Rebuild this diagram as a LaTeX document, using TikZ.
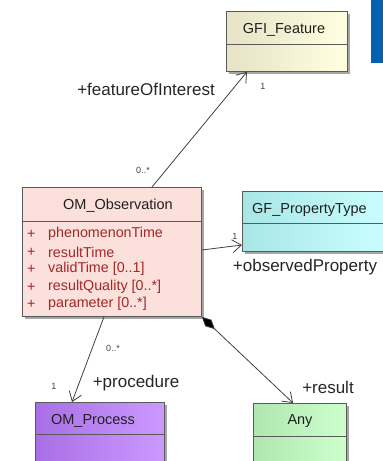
\documentclass[tikz,border=0pt]{standalone}
\usepackage{fontspec}
\setmainfont{Liberation Sans}
\usetikzlibrary{arrows.meta,calc,shadows}
\definecolor{boxline}{HTML}{5A5A5A}
\definecolor{titlecol}{HTML}{202020}
\definecolor{attrcol}{HTML}{A02828}
\definecolor{gfiL}{HTML}{E6E3C6}
\definecolor{gfiR}{HTML}{FFFFE0}
\definecolor{obsC}{HTML}{FCE0DC}
\definecolor{gptL}{HTML}{A8E6E6}
\definecolor{gptR}{HTML}{CCFFFF}
\definecolor{procL}{HTML}{A96EE6}
\definecolor{procR}{HTML}{CC99FF}
\definecolor{anyL}{HTML}{B0E6B0}
\definecolor{anyR}{HTML}{CCFFCC}
\definecolor{slideblue}{HTML}{0062B0}
\begin{document}
\begin{tikzpicture}[x=1pt,y=-1pt,
  box/.style={draw=boxline, line width=0.8pt, rectangle, anchor=north west, inner sep=0pt,
    drop shadow={shadow xshift=2.5pt, shadow yshift=-2.5pt, fill=black, opacity=0.35}},
  divider/.style={draw=boxline, line width=0.8pt},
  title/.style={font=\fontsize{14.5}{16}\selectfont, text=titlecol, inner sep=0pt},
  attr/.style={font=\fontsize{14.3}{16}\selectfont, text=attrcol, anchor=west, inner sep=0pt},
  role/.style={font=\fontsize{17}{19}\selectfont, text=black!85, inner sep=0pt},
  mult/.style={font=\fontsize{9}{10}\selectfont, text=black!75, inner sep=0pt},
  assoc/.style={draw=black!75, line width=0.8pt, -{Straight Barb[length=9pt,width=13pt,line width=0.8pt]}},
  compo/.style={draw=black!75, line width=0.8pt, {Diamond[length=18pt,width=9pt,fill=black]}-{Straight Barb[length=9pt,width=13pt,line width=0.8pt]}},
]
\useasboundingbox (0,0) rectangle (383,461);
% slide fragment
\fill[slideblue] (371,0) rectangle (384,63);

% boxes
\node[box, left color=gfiL, right color=gfiR, minimum width=121pt, minimum height=60pt] (gfi) at (226,11) {};
\node[box, fill=obsC, minimum width=179pt, minimum height=129pt] (obs) at (22,187) {};
\node[box, left color=gptL, right color=gptR, minimum width=150pt, minimum height=60pt] (gpt) at (242,191) {};
\node[box, left color=procL, right color=procR, minimum width=129pt, minimum height=70pt] (proc) at (35,402) {};
\node[box, left color=anyL, right color=anyR, minimum width=93pt, minimum height=70pt] (any) at (253,403) {};

% dividers
\draw[divider] (gfi.west |- 0,44) -- (gfi.east |- 0,44);
\draw[divider] (obs.west |- 0,221) -- (obs.east |- 0,221);
\draw[divider] (gpt.west |- 0,223) -- (gpt.east |- 0,223);
\draw[divider] (proc.west |- 0,434) -- (proc.east |- 0,434);
\draw[divider] (any.west |- 0,436) -- (any.east |- 0,436);

% titles
\node[title] (gfit) at (284,30) {GFI\_Feature};
\node[title] (obst) at (118,206) {OM\_Observation};
\node[title, anchor=west] (gptt) at (252,210) {GF\_PropertyType};
\node[title] (proct) at (93,421) {OM\_Process};
\node[title] (anyt) at (300,421) {Any};

% attributes
\foreach \yy/\nm/\txt in {234/a1/phenomenonTime, 252/a2/resultTime, 269/a3/{validTime [0..1]}, 287/a4/{resultQuality [0..*]}, 304/a5/{parameter [0..*]}} {
  \node[attr] (p\nm) at (27,\yy) {+};
  \node[attr] (\nm) at (48,\yy) {\txt};
}

% connectors
\draw[assoc] ($(obs.north west)+(130,0)$) -- ($(gfi.south west)+(21,0)$);
\draw[assoc] ($(obs.north east)+(0,63)$) -- ($(gpt.north west)+(0,54)$);
\draw[assoc] ($(obs.south west)+(82,0)$) -- ($(proc.north west)+(37,0)$);
\draw[compo] (obs.south east) -- ($(any.north west)+(40,0)$);

% labels
\node[role] (lfoi) at (146,89) {+featureOfInterest};
\node[mult] (m1) at (263,86) {1};
\node[mult] (m2) at (143,170) {0..*};
\node[mult] (m3) at (235,236) {1};
\node[role] (lop) at (305,267) {+observedProperty};
\node[mult] (m4) at (113,348) {0..*};
\node[mult] (m5) at (54,386) {1};
\node[role] (lproc) at (136,383) {+procedure};
\node[role] (lres) at (328,387) {+result};
\end{tikzpicture}
\end{document}
